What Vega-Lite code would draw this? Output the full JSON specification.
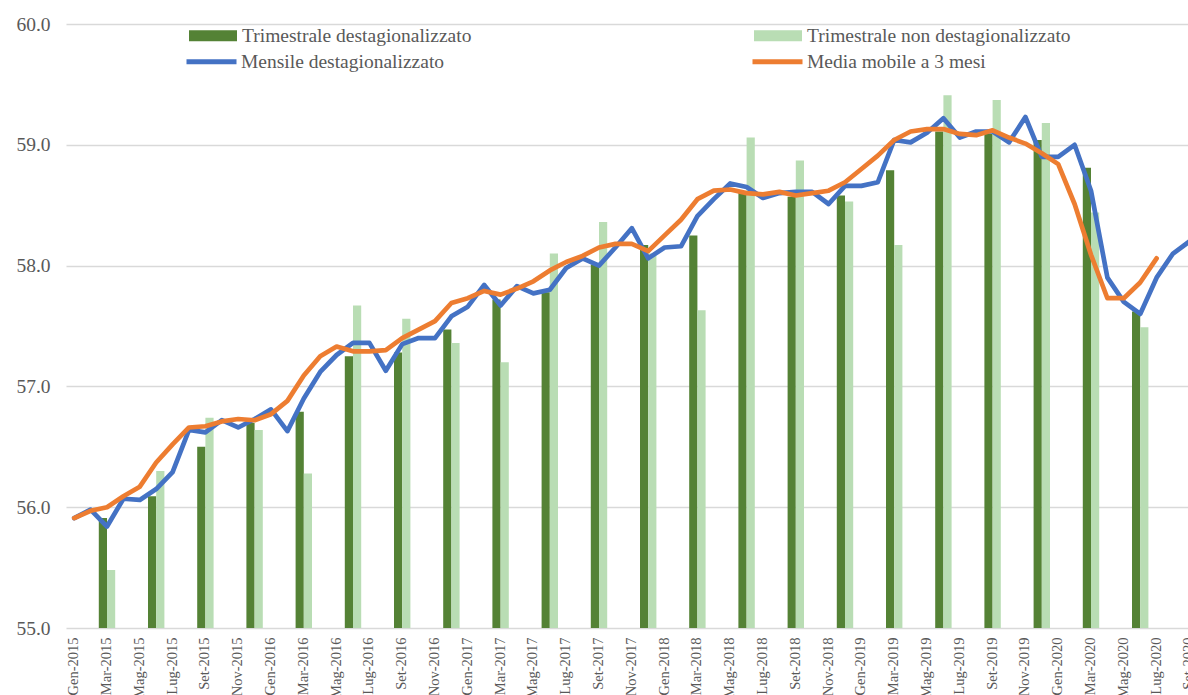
{
  "$schema": "https://vega.github.io/schema/vega-lite/v6.json",
  "autosize": "none",
  "width": 1122,
  "height": 604,
  "padding": {"left": 66, "top": 24, "right": 0, "bottom": 67},
  "background": "white",
  "config": {
    "view": {"stroke": null},
    "font": "Liberation Serif",
    "axis": {"labelFont": "Liberation Serif", "labelColor": "#595959"},
    "legend": {"labelFont": "Liberation Serif"}
  },
  "datasets": {
    "mensile": [
      {"mese": "Gen-2015", "serie": "Mensile destagionalizzato", "valore": 55.91},
      {"mese": "Feb-2015", "serie": "Mensile destagionalizzato", "valore": 55.98},
      {"mese": "Mar-2015", "serie": "Mensile destagionalizzato", "valore": 55.84},
      {"mese": "Apr-2015", "serie": "Mensile destagionalizzato", "valore": 56.07},
      {"mese": "Mag-2015", "serie": "Mensile destagionalizzato", "valore": 56.06},
      {"mese": "Giu-2015", "serie": "Mensile destagionalizzato", "valore": 56.15},
      {"mese": "Lug-2015", "serie": "Mensile destagionalizzato", "valore": 56.29},
      {"mese": "Ago-2015", "serie": "Mensile destagionalizzato", "valore": 56.64},
      {"mese": "Set-2015", "serie": "Mensile destagionalizzato", "valore": 56.62},
      {"mese": "Ott-2015", "serie": "Mensile destagionalizzato", "valore": 56.72},
      {"mese": "Nov-2015", "serie": "Mensile destagionalizzato", "valore": 56.66},
      {"mese": "Dic-2015", "serie": "Mensile destagionalizzato", "valore": 56.73},
      {"mese": "Gen-2016", "serie": "Mensile destagionalizzato", "valore": 56.81},
      {"mese": "Feb-2016", "serie": "Mensile destagionalizzato", "valore": 56.63},
      {"mese": "Mar-2016", "serie": "Mensile destagionalizzato", "valore": 56.90},
      {"mese": "Apr-2016", "serie": "Mensile destagionalizzato", "valore": 57.12},
      {"mese": "Mag-2016", "serie": "Mensile destagionalizzato", "valore": 57.26},
      {"mese": "Giu-2016", "serie": "Mensile destagionalizzato", "valore": 57.36},
      {"mese": "Lug-2016", "serie": "Mensile destagionalizzato", "valore": 57.36},
      {"mese": "Ago-2016", "serie": "Mensile destagionalizzato", "valore": 57.13},
      {"mese": "Set-2016", "serie": "Mensile destagionalizzato", "valore": 57.35},
      {"mese": "Ott-2016", "serie": "Mensile destagionalizzato", "valore": 57.40},
      {"mese": "Nov-2016", "serie": "Mensile destagionalizzato", "valore": 57.40},
      {"mese": "Dic-2016", "serie": "Mensile destagionalizzato", "valore": 57.58},
      {"mese": "Gen-2017", "serie": "Mensile destagionalizzato", "valore": 57.66},
      {"mese": "Feb-2017", "serie": "Mensile destagionalizzato", "valore": 57.84},
      {"mese": "Mar-2017", "serie": "Mensile destagionalizzato", "valore": 57.67},
      {"mese": "Apr-2017", "serie": "Mensile destagionalizzato", "valore": 57.83},
      {"mese": "Mag-2017", "serie": "Mensile destagionalizzato", "valore": 57.77},
      {"mese": "Giu-2017", "serie": "Mensile destagionalizzato", "valore": 57.80},
      {"mese": "Lug-2017", "serie": "Mensile destagionalizzato", "valore": 57.98},
      {"mese": "Ago-2017", "serie": "Mensile destagionalizzato", "valore": 58.06},
      {"mese": "Set-2017", "serie": "Mensile destagionalizzato", "valore": 58.00},
      {"mese": "Ott-2017", "serie": "Mensile destagionalizzato", "valore": 58.15},
      {"mese": "Nov-2017", "serie": "Mensile destagionalizzato", "valore": 58.31},
      {"mese": "Dic-2017", "serie": "Mensile destagionalizzato", "valore": 58.06},
      {"mese": "Gen-2018", "serie": "Mensile destagionalizzato", "valore": 58.15},
      {"mese": "Feb-2018", "serie": "Mensile destagionalizzato", "valore": 58.16},
      {"mese": "Mar-2018", "serie": "Mensile destagionalizzato", "valore": 58.41},
      {"mese": "Apr-2018", "serie": "Mensile destagionalizzato", "valore": 58.55},
      {"mese": "Mag-2018", "serie": "Mensile destagionalizzato", "valore": 58.68},
      {"mese": "Giu-2018", "serie": "Mensile destagionalizzato", "valore": 58.65},
      {"mese": "Lug-2018", "serie": "Mensile destagionalizzato", "valore": 58.56},
      {"mese": "Ago-2018", "serie": "Mensile destagionalizzato", "valore": 58.60},
      {"mese": "Set-2018", "serie": "Mensile destagionalizzato", "valore": 58.61},
      {"mese": "Ott-2018", "serie": "Mensile destagionalizzato", "valore": 58.61},
      {"mese": "Nov-2018", "serie": "Mensile destagionalizzato", "valore": 58.51},
      {"mese": "Dic-2018", "serie": "Mensile destagionalizzato", "valore": 58.66},
      {"mese": "Gen-2019", "serie": "Mensile destagionalizzato", "valore": 58.66},
      {"mese": "Feb-2019", "serie": "Mensile destagionalizzato", "valore": 58.69},
      {"mese": "Mar-2019", "serie": "Mensile destagionalizzato", "valore": 59.04},
      {"mese": "Apr-2019", "serie": "Mensile destagionalizzato", "valore": 59.02},
      {"mese": "Mag-2019", "serie": "Mensile destagionalizzato", "valore": 59.10},
      {"mese": "Giu-2019", "serie": "Mensile destagionalizzato", "valore": 59.22},
      {"mese": "Lug-2019", "serie": "Mensile destagionalizzato", "valore": 59.06},
      {"mese": "Ago-2019", "serie": "Mensile destagionalizzato", "valore": 59.11},
      {"mese": "Set-2019", "serie": "Mensile destagionalizzato", "valore": 59.11},
      {"mese": "Ott-2019", "serie": "Mensile destagionalizzato", "valore": 59.02},
      {"mese": "Nov-2019", "serie": "Mensile destagionalizzato", "valore": 59.23},
      {"mese": "Dic-2019", "serie": "Mensile destagionalizzato", "valore": 58.90},
      {"mese": "Gen-2020", "serie": "Mensile destagionalizzato", "valore": 58.90},
      {"mese": "Feb-2020", "serie": "Mensile destagionalizzato", "valore": 59.00},
      {"mese": "Mar-2020", "serie": "Mensile destagionalizzato", "valore": 58.62},
      {"mese": "Apr-2020", "serie": "Mensile destagionalizzato", "valore": 57.90},
      {"mese": "Mag-2020", "serie": "Mensile destagionalizzato", "valore": 57.70},
      {"mese": "Giu-2020", "serie": "Mensile destagionalizzato", "valore": 57.60},
      {"mese": "Lug-2020", "serie": "Mensile destagionalizzato", "valore": 57.90},
      {"mese": "Ago-2020", "serie": "Mensile destagionalizzato", "valore": 58.10},
      {"mese": "Set-2020", "serie": "Mensile destagionalizzato", "valore": 58.20}
    ],
    "media": [
      {"mese": "Gen-2015", "serie": "Media mobile a 3 mesi", "valore": 55.91},
      {"mese": "Feb-2015", "serie": "Media mobile a 3 mesi", "valore": 55.97},
      {"mese": "Mar-2015", "serie": "Media mobile a 3 mesi", "valore": 56.00},
      {"mese": "Apr-2015", "serie": "Media mobile a 3 mesi", "valore": 56.09},
      {"mese": "Mag-2015", "serie": "Media mobile a 3 mesi", "valore": 56.17},
      {"mese": "Giu-2015", "serie": "Media mobile a 3 mesi", "valore": 56.37},
      {"mese": "Lug-2015", "serie": "Media mobile a 3 mesi", "valore": 56.52},
      {"mese": "Ago-2015", "serie": "Media mobile a 3 mesi", "valore": 56.66},
      {"mese": "Set-2015", "serie": "Media mobile a 3 mesi", "valore": 56.67},
      {"mese": "Ott-2015", "serie": "Media mobile a 3 mesi", "valore": 56.71},
      {"mese": "Nov-2015", "serie": "Media mobile a 3 mesi", "valore": 56.73},
      {"mese": "Dic-2015", "serie": "Media mobile a 3 mesi", "valore": 56.72},
      {"mese": "Gen-2016", "serie": "Media mobile a 3 mesi", "valore": 56.77},
      {"mese": "Feb-2016", "serie": "Media mobile a 3 mesi", "valore": 56.88},
      {"mese": "Mar-2016", "serie": "Media mobile a 3 mesi", "valore": 57.09},
      {"mese": "Apr-2016", "serie": "Media mobile a 3 mesi", "valore": 57.25},
      {"mese": "Mag-2016", "serie": "Media mobile a 3 mesi", "valore": 57.33},
      {"mese": "Giu-2016", "serie": "Media mobile a 3 mesi", "valore": 57.29},
      {"mese": "Lug-2016", "serie": "Media mobile a 3 mesi", "valore": 57.29},
      {"mese": "Ago-2016", "serie": "Media mobile a 3 mesi", "valore": 57.30},
      {"mese": "Set-2016", "serie": "Media mobile a 3 mesi", "valore": 57.40},
      {"mese": "Ott-2016", "serie": "Media mobile a 3 mesi", "valore": 57.47},
      {"mese": "Nov-2016", "serie": "Media mobile a 3 mesi", "valore": 57.54},
      {"mese": "Dic-2016", "serie": "Media mobile a 3 mesi", "valore": 57.69},
      {"mese": "Gen-2017", "serie": "Media mobile a 3 mesi", "valore": 57.73},
      {"mese": "Feb-2017", "serie": "Media mobile a 3 mesi", "valore": 57.79},
      {"mese": "Mar-2017", "serie": "Media mobile a 3 mesi", "valore": 57.76},
      {"mese": "Apr-2017", "serie": "Media mobile a 3 mesi", "valore": 57.81},
      {"mese": "Mag-2017", "serie": "Media mobile a 3 mesi", "valore": 57.87},
      {"mese": "Giu-2017", "serie": "Media mobile a 3 mesi", "valore": 57.96},
      {"mese": "Lug-2017", "serie": "Media mobile a 3 mesi", "valore": 58.03},
      {"mese": "Ago-2017", "serie": "Media mobile a 3 mesi", "valore": 58.08},
      {"mese": "Set-2017", "serie": "Media mobile a 3 mesi", "valore": 58.15},
      {"mese": "Ott-2017", "serie": "Media mobile a 3 mesi", "valore": 58.18},
      {"mese": "Nov-2017", "serie": "Media mobile a 3 mesi", "valore": 58.18},
      {"mese": "Dic-2017", "serie": "Media mobile a 3 mesi", "valore": 58.12},
      {"mese": "Gen-2018", "serie": "Media mobile a 3 mesi", "valore": 58.25},
      {"mese": "Feb-2018", "serie": "Media mobile a 3 mesi", "valore": 58.38},
      {"mese": "Mar-2018", "serie": "Media mobile a 3 mesi", "valore": 58.55},
      {"mese": "Apr-2018", "serie": "Media mobile a 3 mesi", "valore": 58.62},
      {"mese": "Mag-2018", "serie": "Media mobile a 3 mesi", "valore": 58.63},
      {"mese": "Giu-2018", "serie": "Media mobile a 3 mesi", "valore": 58.60},
      {"mese": "Lug-2018", "serie": "Media mobile a 3 mesi", "valore": 58.59},
      {"mese": "Ago-2018", "serie": "Media mobile a 3 mesi", "valore": 58.61},
      {"mese": "Set-2018", "serie": "Media mobile a 3 mesi", "valore": 58.58},
      {"mese": "Ott-2018", "serie": "Media mobile a 3 mesi", "valore": 58.60},
      {"mese": "Nov-2018", "serie": "Media mobile a 3 mesi", "valore": 58.62},
      {"mese": "Dic-2018", "serie": "Media mobile a 3 mesi", "valore": 58.69},
      {"mese": "Gen-2019", "serie": "Media mobile a 3 mesi", "valore": 58.80},
      {"mese": "Feb-2019", "serie": "Media mobile a 3 mesi", "valore": 58.91},
      {"mese": "Mar-2019", "serie": "Media mobile a 3 mesi", "valore": 59.04},
      {"mese": "Apr-2019", "serie": "Media mobile a 3 mesi", "valore": 59.11},
      {"mese": "Mag-2019", "serie": "Media mobile a 3 mesi", "valore": 59.13},
      {"mese": "Giu-2019", "serie": "Media mobile a 3 mesi", "valore": 59.13},
      {"mese": "Lug-2019", "serie": "Media mobile a 3 mesi", "valore": 59.09},
      {"mese": "Ago-2019", "serie": "Media mobile a 3 mesi", "valore": 59.08},
      {"mese": "Set-2019", "serie": "Media mobile a 3 mesi", "valore": 59.12},
      {"mese": "Ott-2019", "serie": "Media mobile a 3 mesi", "valore": 59.06},
      {"mese": "Nov-2019", "serie": "Media mobile a 3 mesi", "valore": 59.01},
      {"mese": "Dic-2019", "serie": "Media mobile a 3 mesi", "valore": 58.93},
      {"mese": "Gen-2020", "serie": "Media mobile a 3 mesi", "valore": 58.84},
      {"mese": "Feb-2020", "serie": "Media mobile a 3 mesi", "valore": 58.51},
      {"mese": "Mar-2020", "serie": "Media mobile a 3 mesi", "valore": 58.09},
      {"mese": "Apr-2020", "serie": "Media mobile a 3 mesi", "valore": 57.73},
      {"mese": "Mag-2020", "serie": "Media mobile a 3 mesi", "valore": 57.73},
      {"mese": "Giu-2020", "serie": "Media mobile a 3 mesi", "valore": 57.86},
      {"mese": "Lug-2020", "serie": "Media mobile a 3 mesi", "valore": 58.06}
    ],
    "trimestrale": [
      {"mese": "Mar-2015", "serie": "Trimestrale destagionalizzato", "valore": 55.91},
      {"mese": "Mar-2015", "serie": "Trimestrale non destagionalizzato", "valore": 55.48},
      {"mese": "Giu-2015", "serie": "Trimestrale destagionalizzato", "valore": 56.09},
      {"mese": "Giu-2015", "serie": "Trimestrale non destagionalizzato", "valore": 56.30},
      {"mese": "Set-2015", "serie": "Trimestrale destagionalizzato", "valore": 56.50},
      {"mese": "Set-2015", "serie": "Trimestrale non destagionalizzato", "valore": 56.74},
      {"mese": "Dic-2015", "serie": "Trimestrale destagionalizzato", "valore": 56.70},
      {"mese": "Dic-2015", "serie": "Trimestrale non destagionalizzato", "valore": 56.64},
      {"mese": "Mar-2016", "serie": "Trimestrale destagionalizzato", "valore": 56.79},
      {"mese": "Mar-2016", "serie": "Trimestrale non destagionalizzato", "valore": 56.28},
      {"mese": "Giu-2016", "serie": "Trimestrale destagionalizzato", "valore": 57.25},
      {"mese": "Giu-2016", "serie": "Trimestrale non destagionalizzato", "valore": 57.67},
      {"mese": "Set-2016", "serie": "Trimestrale destagionalizzato", "valore": 57.28},
      {"mese": "Set-2016", "serie": "Trimestrale non destagionalizzato", "valore": 57.56},
      {"mese": "Dic-2016", "serie": "Trimestrale destagionalizzato", "valore": 57.47},
      {"mese": "Dic-2016", "serie": "Trimestrale non destagionalizzato", "valore": 57.36},
      {"mese": "Mar-2017", "serie": "Trimestrale destagionalizzato", "valore": 57.72},
      {"mese": "Mar-2017", "serie": "Trimestrale non destagionalizzato", "valore": 57.20},
      {"mese": "Giu-2017", "serie": "Trimestrale destagionalizzato", "valore": 57.78},
      {"mese": "Giu-2017", "serie": "Trimestrale non destagionalizzato", "valore": 58.10},
      {"mese": "Set-2017", "serie": "Trimestrale destagionalizzato", "valore": 58.01},
      {"mese": "Set-2017", "serie": "Trimestrale non destagionalizzato", "valore": 58.36},
      {"mese": "Dic-2017", "serie": "Trimestrale destagionalizzato", "valore": 58.17},
      {"mese": "Dic-2017", "serie": "Trimestrale non destagionalizzato", "valore": 58.10},
      {"mese": "Mar-2018", "serie": "Trimestrale destagionalizzato", "valore": 58.25},
      {"mese": "Mar-2018", "serie": "Trimestrale non destagionalizzato", "valore": 57.63},
      {"mese": "Giu-2018", "serie": "Trimestrale destagionalizzato", "valore": 58.60},
      {"mese": "Giu-2018", "serie": "Trimestrale non destagionalizzato", "valore": 59.06},
      {"mese": "Set-2018", "serie": "Trimestrale destagionalizzato", "valore": 58.57},
      {"mese": "Set-2018", "serie": "Trimestrale non destagionalizzato", "valore": 58.87},
      {"mese": "Dic-2018", "serie": "Trimestrale destagionalizzato", "valore": 58.58},
      {"mese": "Dic-2018", "serie": "Trimestrale non destagionalizzato", "valore": 58.53},
      {"mese": "Mar-2019", "serie": "Trimestrale destagionalizzato", "valore": 58.79},
      {"mese": "Mar-2019", "serie": "Trimestrale non destagionalizzato", "valore": 58.17},
      {"mese": "Giu-2019", "serie": "Trimestrale destagionalizzato", "valore": 59.11},
      {"mese": "Giu-2019", "serie": "Trimestrale non destagionalizzato", "valore": 59.41},
      {"mese": "Set-2019", "serie": "Trimestrale destagionalizzato", "valore": 59.09},
      {"mese": "Set-2019", "serie": "Trimestrale non destagionalizzato", "valore": 59.37},
      {"mese": "Dic-2019", "serie": "Trimestrale destagionalizzato", "valore": 59.04},
      {"mese": "Dic-2019", "serie": "Trimestrale non destagionalizzato", "valore": 59.18},
      {"mese": "Mar-2020", "serie": "Trimestrale destagionalizzato", "valore": 58.81},
      {"mese": "Mar-2020", "serie": "Trimestrale non destagionalizzato", "valore": 58.44},
      {"mese": "Giu-2020", "serie": "Trimestrale destagionalizzato", "valore": 57.62},
      {"mese": "Giu-2020", "serie": "Trimestrale non destagionalizzato", "valore": 57.49}
    ]
  },
  "encoding": {
    "x": {
      "field": "mese",
      "type": "ordinal",
      "title": null,
      "scale": {
        "type": "band",
        "paddingInner": 0,
        "paddingOuter": 0,
        "range": [0, 1131.6],
        "domain": ["Gen-2015","Feb-2015","Mar-2015","Apr-2015","Mag-2015","Giu-2015","Lug-2015","Ago-2015","Set-2015","Ott-2015","Nov-2015","Dic-2015",
                   "Gen-2016","Feb-2016","Mar-2016","Apr-2016","Mag-2016","Giu-2016","Lug-2016","Ago-2016","Set-2016","Ott-2016","Nov-2016","Dic-2016",
                   "Gen-2017","Feb-2017","Mar-2017","Apr-2017","Mag-2017","Giu-2017","Lug-2017","Ago-2017","Set-2017","Ott-2017","Nov-2017","Dic-2017",
                   "Gen-2018","Feb-2018","Mar-2018","Apr-2018","Mag-2018","Giu-2018","Lug-2018","Ago-2018","Set-2018","Ott-2018","Nov-2018","Dic-2018",
                   "Gen-2019","Feb-2019","Mar-2019","Apr-2019","Mag-2019","Giu-2019","Lug-2019","Ago-2019","Set-2019","Ott-2019","Nov-2019","Dic-2019",
                   "Gen-2020","Feb-2020","Mar-2020","Apr-2020","Mag-2020","Giu-2020","Lug-2020","Ago-2020","Set-2020"]
      },
      "axis": {
        "values": ["Gen-2015","Mar-2015","Mag-2015","Lug-2015","Set-2015","Nov-2015",
                   "Gen-2016","Mar-2016","Mag-2016","Lug-2016","Set-2016","Nov-2016",
                   "Gen-2017","Mar-2017","Mag-2017","Lug-2017","Set-2017","Nov-2017",
                   "Gen-2018","Mar-2018","Mag-2018","Lug-2018","Set-2018","Nov-2018",
                   "Gen-2019","Mar-2019","Mag-2019","Lug-2019","Set-2019","Nov-2019",
                   "Gen-2020","Mar-2020","Mag-2020","Lug-2020","Set-2020"],
        "labelAngle": -90,
        "labelFont": "Liberation Serif",
        "labelFontSize": 14.5,
        "labelColor": "#595959",
        "labelPadding": 9,
        "labelOverlap": false,
        "labelFlush": false,
        "labelBound": false,
        "ticks": false,
        "domain": false,
        "grid": false
      }
    },
    "y": {
      "field": "valore",
      "type": "quantitative",
      "title": null,
      "scale": {"domain": [55, 60], "zero": false, "nice": false},
      "axis": {
        "values": [55, 56, 57, 58, 59, 60],
        "format": ".1f",
        "labelFont": "Liberation Serif",
        "labelFontSize": 19.5,
        "labelColor": "#595959",
        "labelPadding": 16,
        "ticks": false,
        "domain": false,
        "grid": true,
        "gridColor": "#D9D9D9",
        "gridWidth": 1.6
      }
    }
  },
  "layer": [
    {
      "data": {"name": "trimestrale"},
      "mark": {"type": "bar"},
      "encoding": {
        "y2": {"datum": 55},
        "xOffset": {
          "field": "serie",
          "type": "nominal",
          "scale": {"domain": ["Trimestrale destagionalizzato", "Trimestrale non destagionalizzato"], "paddingInner": 0, "paddingOuter": 0}
        },
        "fill": {
          "field": "serie",
          "type": "nominal",
          "scale": {"domain": ["Trimestrale destagionalizzato", "Trimestrale non destagionalizzato"], "range": ["#548235", "#B9DDB4"]},
          "legend": {
            "orient": "none",
            "legendX": 123,
            "legendY": -12.5,
            "direction": "horizontal",
            "columns": 2,
            "title": null,
            "symbolType": "M-1,-0.23H1V0.23H-1Z",
            "symbolSize": 2304,
            "symbolStrokeWidth": 0,
            "symbolOpacity": 1,
            "labelFont": "Liberation Serif",
            "labelFontSize": 19.5,
            "labelColor": "#595959",
            "labelOffset": 5,
            "labelLimit": 0,
            "columnPadding": 282
          }
        }
      }
    },
    {
      "data": {"name": "mensile"},
      "mark": {"type": "line", "strokeWidth": 4.7, "strokeJoin": "round", "strokeCap": "round"},
      "encoding": {
        "stroke": {
          "field": "serie",
          "type": "nominal",
          "scale": {"domain": ["Mensile destagionalizzato", "Media mobile a 3 mesi"], "range": ["#4472C4", "#ED7D31"]},
          "legend": {
            "orient": "none",
            "legendX": 118,
            "legendY": 10,
            "direction": "horizontal",
            "columns": 2,
            "title": null,
            "symbolType": "stroke",
            "symbolSize": 2500,
            "symbolStrokeWidth": 5,
            "labelFont": "Liberation Serif",
            "labelFontSize": 19.5,
            "labelColor": "#595959",
            "labelOffset": 2,
            "labelLimit": 0,
            "columnPadding": 297
          }
        }
      }
    },
    {
      "data": {"name": "media"},
      "mark": {"type": "line", "strokeWidth": 4.7, "strokeJoin": "round", "strokeCap": "round"},
      "encoding": {
        "stroke": {"field": "serie", "type": "nominal"}
      }
    }
  ]
}
